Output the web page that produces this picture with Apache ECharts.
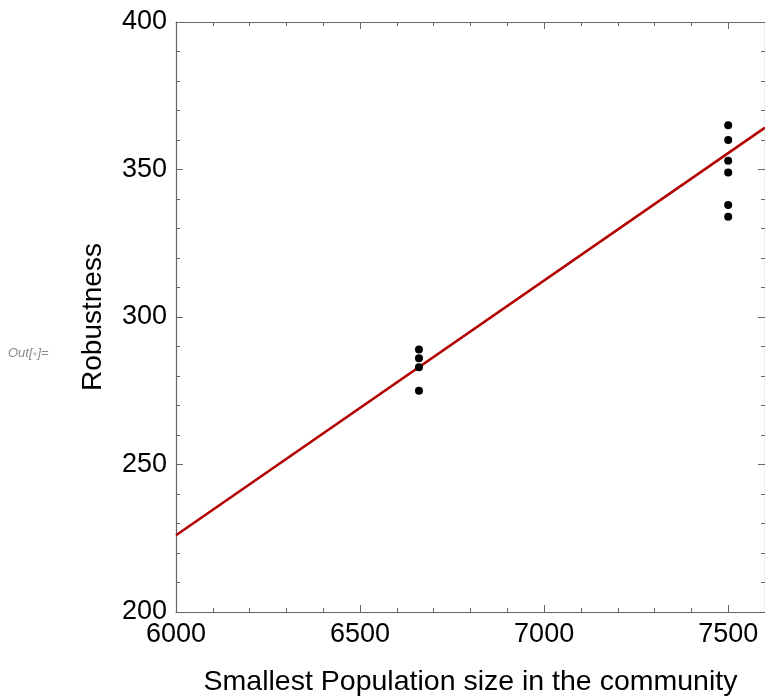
<!DOCTYPE html>
<html>
<head>
  <meta charset="UTF-8" />
  <title>Robustness vs smallest population</title>
  <script src="https://cdn.jsdelivr.net/npm/echarts@6/dist/echarts.min.js"></script>
  <style>
    body { margin: 0; background: #fff; }
    #chart { width: 765px; height: 698px; }
  </style>
</head>
<body>
  <div id="chart"></div>
  <script>
    // measured points (population size, robustness)
    const popSize = [6660, 6660, 6660, 6660, 7500, 7500, 7500, 7500, 7500, 7500];
    const robustness = [289, 286, 283, 275, 365, 360, 353, 349, 338, 334];

    // fitted line end points
    const fitX = [6000, 7600];
    const fitY = [226, 364.2];

    const axisGrey = '#666';
    const font = 'Liberation Sans, Arial, sans-serif';

    const chart = echarts.init(document.getElementById('chart'));

    function frameAxis(extra) {
      return Object.assign({
        axisLine: { show: true, lineStyle: { color: axisGrey, width: 1.2 } },
        axisTick: { show: true, inside: true, length: 7, lineStyle: { color: axisGrey } },
        minorTick: { show: true, splitNumber: 5, length: 4, lineStyle: { color: axisGrey } },
        splitLine: { show: false },
        axisLabel: { show: false }
      }, extra);
    }

    chart.setOption({
      animation: false,
      grid: { left: 176, right: 0, top: 22, bottom: 86, containLabel: false, outerBoundsMode: 'none' },
      xAxis: [
        frameAxis({
          type: 'value', min: 6000, max: 7600, interval: 500, position: 'bottom',
          axisLabel: { show: true, color: '#000', fontSize: 27, fontFamily: font, margin: 9,
            formatter: v => String(v) },
          name: 'Smallest Population size in the community',
          nameLocation: 'middle', nameGap: 56,
          nameTextStyle: { color: '#000', fontSize: 28.5, fontFamily: font }
        }),
        frameAxis({ type: 'value', min: 6000, max: 7600, interval: 500, position: 'top' })
      ],
      yAxis: [
        frameAxis({
          type: 'value', min: 200, max: 400, interval: 50, position: 'left',
          axisLabel: { show: true, color: '#000', fontSize: 27, fontFamily: font, margin: 9,
            formatter: v => String(v) },
          name: 'Robustness', nameLocation: 'middle', nameGap: 69,
          nameTextStyle: { color: '#000', fontSize: 28, fontFamily: font }
        }),
        frameAxis({ type: 'value', min: 200, max: 400, interval: 50, position: 'right' })
      ],
      graphic: [{
        type: 'text', left: 8, top: 347,
        style: {
          text: '{a|Out[}{b|●}{a|]=}',
          rich: {
            a: { fontSize: 13, fontStyle: 'italic', fontFamily: font, fill: '#888' },
            b: { fontSize: 8, fill: '#ccc' }
          }
        }
      }],
      series: [
        {
          type: 'line', data: fitX.map((x, i) => [x, fitY[i]]),
          symbol: 'none', lineStyle: { color: '#b30000', width: 2.5 }, z: 2
        },
        {
          type: 'scatter', data: popSize.map((x, i) => [x, robustness[i]]),
          symbolSize: 8, itemStyle: { color: '#000', opacity: 1 }, z: 3
        }
      ]
    });
  </script>
</body>
</html>
